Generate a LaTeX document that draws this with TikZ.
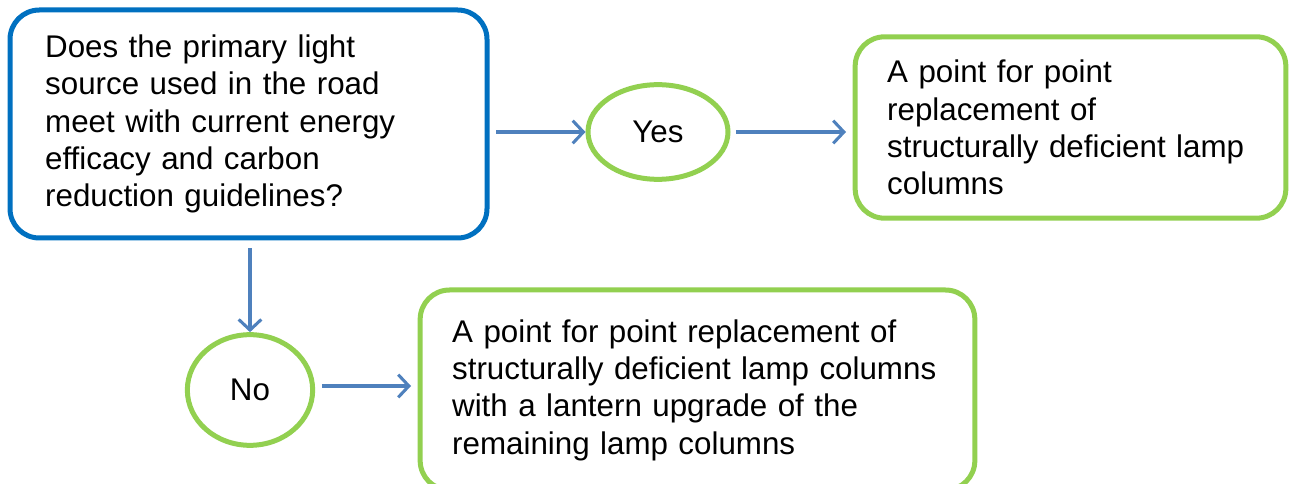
\documentclass[tikz,border=0pt]{standalone}
\usepackage{fontspec}
\setmainfont{Liberation Sans}
\usetikzlibrary{arrows.meta,shapes.geometric}
\definecolor{qblue}{RGB}{0,112,192}
\definecolor{agreen}{RGB}{146,208,80}
\definecolor{arrowblue}{RGB}{79,129,189}
\tikzset{
  question/.style={draw=qblue, line width=3.75pt, rounded corners=22pt, align=left, inner xsep=0pt},
  answer/.style={draw=agreen, line width=3.75pt, rounded corners=22pt, align=left, inner xsep=0pt},
  choice/.style={draw=agreen, line width=3.75pt, ellipse, inner sep=0pt},
  link/.style={draw=arrowblue, line width=2.3pt, -{Straight Barb[length=8pt, width=17pt, line width=2.3pt]}}
}
\begin{document}
\begin{tikzpicture}[x=0.75pt, y=-0.75pt, font=\fontsize{23.5}{28}\selectfont]
  \useasboundingbox (0,0) rectangle (1296,484);
  \node[question, minimum width=357.75pt, minimum height=171pt, text width=305pt] (q) at (248.5,124)
    {Does the primary light\\source used in the road\\meet with current energy\\efficacy and carbon\\reduction guidelines?};
  \node[choice, minimum width=105pt, minimum height=71pt] (yes) at (658,132) {Yes};
  \node[choice, minimum width=94pt, minimum height=83pt] (no) at (250,390) {No};
  \node[answer, minimum width=323pt, minimum height=136pt, text width=275pt] (a1) at (1070.5,127.5)
    {A point for point\\replacement of\\structurally deficient lamp\\columns};
  \node[answer, minimum width=416pt, minimum height=150pt, text width=368pt] (a2) at (697.5,390)
    {A point for point replacement of\\structurally deficient lamp columns\\with a lantern upgrade of the\\remaining lamp columns};
  \draw[link, shorten <=5pt] (q.east |- yes) -- (yes.west);
  \draw[link, shorten <=4pt, shorten >=5pt] (yes.east) -- (a1.west |- yes);
  \draw[link, shorten <=6pt] (q.south -| no) -- (no.north);
  \draw[link, shorten <=5pt, shorten >=5pt] (no.east |- 0,386) -- (a2.west |- 0,386);
\end{tikzpicture}
\end{document}
